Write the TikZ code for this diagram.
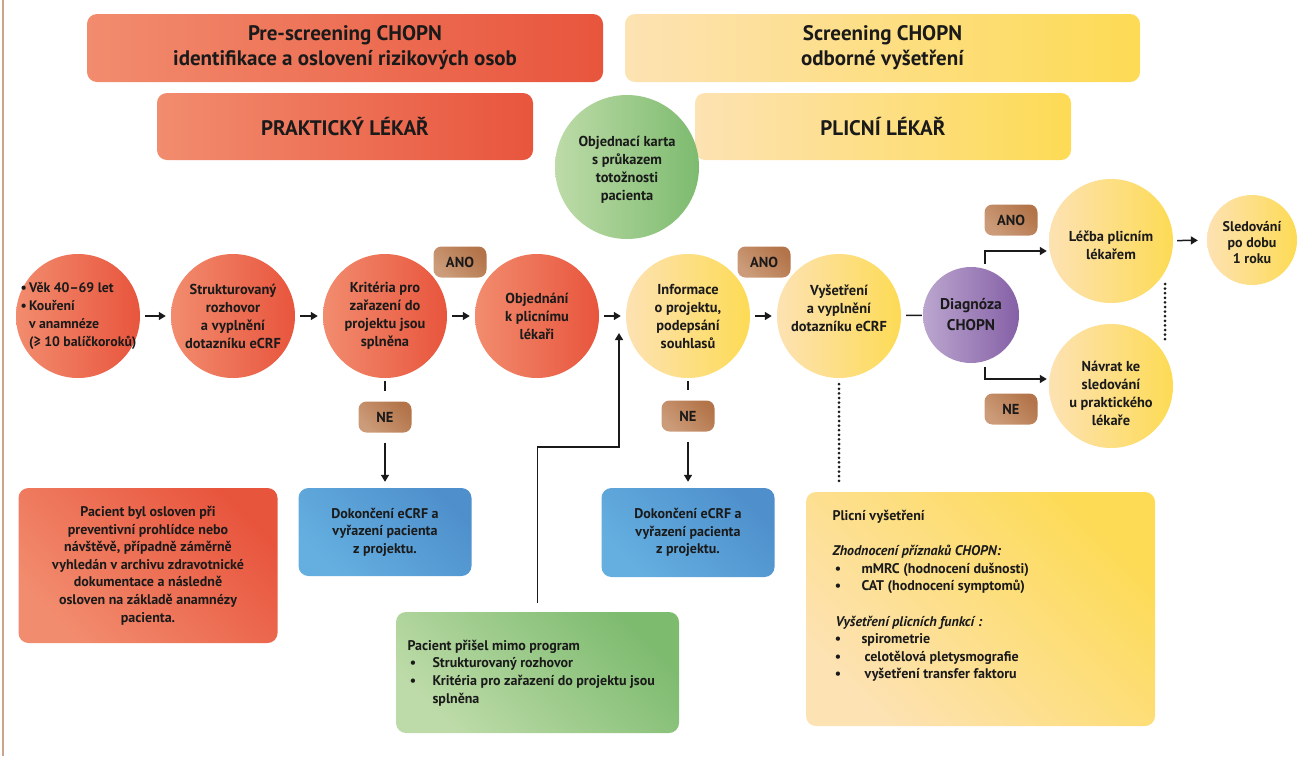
\documentclass[tikz,border=0pt]{standalone}
\usepackage{fontspec}
\setmainfont{PT Sans}
\usetikzlibrary{arrows.meta}

\definecolor{ink}{HTML}{1A1A1A}
\definecolor{edgetan}{HTML}{C9A58C}
\definecolor{redL}{HTML}{F28C6E}
\definecolor{redR}{HTML}{E8553D}
\definecolor{yelL}{HTML}{FDE2B3}
\definecolor{yelR}{HTML}{FDDB55}
\definecolor{grnL}{HTML}{BDDBA8}
\definecolor{grnR}{HTML}{7DBB6F}
\definecolor{bluL}{HTML}{64AFE0}
\definecolor{bluR}{HTML}{4F90CC}
\definecolor{purL}{HTML}{BBA6CF}
\definecolor{purR}{HTML}{8560A6}
\definecolor{brnL}{HTML}{CC9C7A}
\definecolor{brnR}{HTML}{B37449}

\tikzset{
  blob/.style={circle, inner sep=0pt, minimum size=#1},
  hgrad/.style 2 args={left color=#1, right color=#2},
  dgrad/.style 2 args={top color=#2, bottom color=#1, shading angle=-45},
  panel/.style 2 args={rectangle, rounded corners=10pt, inner sep=0pt,
    minimum width=#1, minimum height=#2},
  pill/.style={rectangle, rounded corners=8pt, inner sep=0pt,
    minimum width=53pt, minimum height=31pt, dgrad={brnL}{brnR},
    text=ink, font=\bfseries\fontsize{14.5}{16}\selectfont},
  ctext/.style={align=center, text=ink, font=\bfseries\fontsize{14.4}{18}\selectfont},
  btext/.style={align=left, text=ink, font=\bfseries\fontsize{14}{17.6}\selectfont},
  head/.style={align=center, text=ink, font=\bfseries\fontsize{21}{25}\selectfont},
  conn/.style={draw=ink, line width=1.5pt},
  arr/.style={conn, -{Triangle[length=7pt, width=8pt]}},
  dotline/.style={draw=ink, line width=3pt, line cap=round, dash pattern=on 0pt off 4.6pt},
}

\begin{document}
\begin{tikzpicture}[x=1pt, y=-1pt]
  \useasboundingbox (0,0) rectangle (1301,756);
  % left edge rule
  \draw[edgetan, line width=2pt] (3,0) -- (3,756);

  % Header banners
  \node[panel={516pt}{68pt}, hgrad={redL}{redR}, head] (pre) at (345,48)
    {Pre-screening CHOPN\\identifikace a oslovení rizikových osob};
  \node[panel={515pt}{68pt}, hgrad={yelL}{yelR}, head] (scr) at (882.5,48)
    {Screening CHOPN\\odborné vyšetření};
  \node[panel={376pt}{67pt}, hgrad={redL}{redR}, head] (gp) at (345,126.5) {PRAKTICKÝ LÉKAŘ};
  \node[panel={376pt}{67pt}, hgrad={yelL}{yelR}, head] (pulm) at (883,126.5) {PLICNÍ LÉKAŘ};

  % Appointment card
  \node[blob=144pt, hgrad={grnL}{grnR}] (card) at (627,167) {};
  \node[ctext] (cardt) at (627,170) {Objednací karta\\s průkazem\\totožnosti\\pacienta};

  % Main row of circles
  \foreach \n/\x/\cl/\cr in {c1/78/redL/redR, c2/233/redL/redR, c3/385/redL/redR,
                             c4/537/redL/redR, c5/688/yelL/yelR, c6/839/yelL/yelR}
    \node[blob=124pt, hgrad={\cl}{\cr}] (\n) at (\x,316) {};
  \node[ctext, align=left, anchor=west, font=\bfseries\fontsize{13.8}{18}\selectfont] (c1t) at (17,316)
    {\textbullet\,Věk 40–69 let\\\textbullet\,Kouření\\\phantom{\textbullet\,}v anamnéze\\\phantom{\textbullet\,}(≥ 10 balíčkoroků)};
  \node[ctext] (c2t) at (c2) {Strukturovaný\\rozhovor\\a vyplnění\\dotazníku eCRF};
  \node[ctext] (c3t) at (c3) {Kritéria pro\\zařazení do\\projektu jsou\\splněna};
  \node[ctext] (c4t) at (c4) {Objednání\\k plicnímu\\lékaři};
  \node[ctext] (c5t) at (c5) {Informace\\o projektu,\\podepsání\\souhlasů};
  \node[ctext] (c6t) at ([shift={(0,-8)}]c6.center) {Vyšetření\\a vyplnění\\dotazníku eCRF};

  % Diagnosis and outcomes
  \node[blob=96pt, hgrad={purL}{purR}] (diag) at (971,315) {};
  \node[ctext, font=\bfseries\fontsize{15.5}{21}\selectfont] (diagt) at (diag) {Diagnóza\\CHOPN};
  \node[blob=124pt, hgrad={yelL}{yelR}] (lecba) at (1111,241) {};
  \node[ctext] (lecbat) at ([shift={(0,4)}]lecba.center) {Léčba plicním\\lékařem};
  \node[blob=124pt, hgrad={yelL}{yelR}] (navrat) at (1111,386) {};
  \node[ctext] (navratt) at ([shift={(0,7)}]navrat.center) {Návrat ke\\sledování\\u praktického\\lékaře};
  \node[blob=90pt, hgrad={yelL}{yelR}] (sled) at (1252,240) {};
  \node[ctext, font=\bfseries\fontsize{14}{16}\selectfont] (sledt) at ([shift={(0,3)}]sled.center)
    {Sledování\\po dobu\\1 roku};

  % ANO / NE labels
  \node[pill] (ano1) at (460,262) {ANO};
  \node[pill] (ano2) at (764,262) {ANO};
  \node[pill] (ano3) at (1011,220) {ANO};
  \node[pill] (ne1) at (c3 |- 0,417) {NE};
  \node[pill] (ne2) at (c5 |- 0,416) {NE};
  \node[pill] (ne3) at (1011,409) {NE};

  % Boxes below
  \node[panel={259pt}{155pt}, dgrad={redL}{redR}, ctext, font=\bfseries\fontsize{14}{17.6}\selectfont]
    (gpbox) at (148,565.5) {Pacient byl osloven při\\preventivní prohlídce nebo\\návštěvě, případně záměrně\\vyhledán v archivu zdravotnické\\dokumentace a následně\\osloven na základě anamnézy\\pacienta.};
  \node[panel={173pt}{88pt}, dgrad={bluL}{bluR}, ctext, font=\bfseries\fontsize{14}{17.6}\selectfont]
    (out1) at (c3 |- 0,532) {Dokončení eCRF a\\vyřazení pacienta\\z projektu.};
  \node[panel={173pt}{89pt}, dgrad={bluL}{bluR}, ctext, font=\bfseries\fontsize{14}{17.6}\selectfont]
    (out2) at (c5 |- 0,532.5) {Dokončení eCRF a\\vyřazení pacienta\\z projektu.};
  \node[panel={283pt}{121pt}, dgrad={grnL}{grnR}] (walkin) at (537.5,672.5) {};
  \node[btext, anchor=west] (walkint) at (404,673)
    {Pacient přišel mimo program\\\makebox[25pt][l]{\,•}Strukturovaný rozhovor\\\makebox[25pt][l]{\,•}Kritéria pro zařazení do projektu jsou\\\hspace*{25pt}splněna};
  \node[panel={349pt}{234pt}, dgrad={yelL}{yelR}] (exam) at (980.5,609) {};
  \node[btext, anchor=west] (examt) at (829,596)
    {Plicní vyšetření\\~\\\textit{Zhodnocení příznaků CHOPN:}\\\makebox[29pt][l]{\,•}mMRC (hodnocení dušnosti)\\\makebox[29pt][l]{\,•}CAT (hodnocení symptomů)\\~\\\hspace*{3pt}\textit{Vyšetření plicních funkcí :}\\\makebox[29pt][l]{\,•}spirometrie\\\makebox[32pt][l]{\,•}celotělová pletysmografie\\\makebox[32pt][l]{\,•}vyšetření transfer faktoru};

  % Connectors
  \foreach \a/\b in {c1/c2, c2/c3, c3/c4, c4/c5, c5/c6}
    \draw[arr, shorten <=5pt, shorten >=5pt] (\a) -- (\b);
  \draw[conn, shorten <=3pt, shorten >=10pt] (c3) -- (ne1);
  \draw[arr, shorten <=10pt, shorten >=6pt] (ne1) -- (out1);
  \draw[conn, shorten <=3pt, shorten >=10pt] (c5) -- (ne2);
  \draw[arr, shorten <=10pt, shorten >=6pt] (ne2) -- (out2);
  \coordinate (join) at (619,333);
  \draw[arr] ([yshift=9pt]walkin.north) -- ++(0,-156) -| (join);
  \draw[conn, shorten <=5pt, shorten >=1pt] (c6) -- (diag);
  \draw[arr] ([shift={(14,-3)}]diag.north) |- ([shift={(-2,10)}]lecba.west);
  \draw[arr] ([shift={(14,4)}]diag.south) |- ([shift={(-2,-7)}]navrat.west);
  \draw[arr, shorten <=4pt, shorten >=9pt] (lecba) -- (sled);
  % dotted links
  \draw[dotline] ([shift={(54,43)}]lecba.center) -- ([shift={(54,-44)}]navrat.center);
  \draw[dotline, shorten <=6pt, shorten >=10pt] (c6.south) -- (c6.south |- exam.north);
\end{tikzpicture}
\end{document}
